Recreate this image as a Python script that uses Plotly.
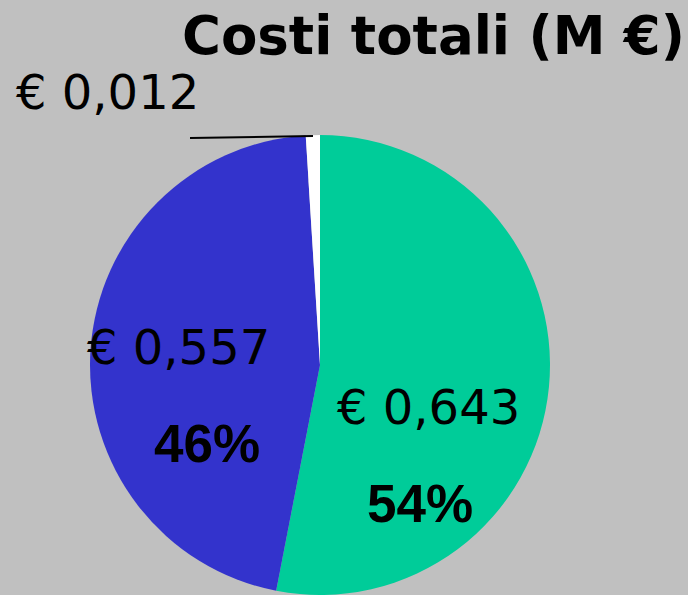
import plotly.graph_objects as go

# ---- data ----
categories = ["Voce A", "Voce B", "Voce C"]
values = [0.643, 0.557, 0.012]
value_labels = ["€ 0,643", "€ 0,557", "€ 0,012"]
pct_labels = ["54%", "46%", ""]
colors = ["#00CC99", "#3333CC", "#FFFFFF"]
title_text = "Costi totali (M €)"

W, H = 688, 595

fig = go.Figure()
fig.add_trace(go.Pie(
    labels=categories,
    values=values,
    sort=False,
    direction="clockwise",
    rotation=0,
    marker=dict(colors=colors, line=dict(width=0)),
    textinfo="none",
    hoverinfo="skip",
    showlegend=False,
    domain=dict(x=[(320 - 230) / W, (320 + 230) / W], y=[0, 460 / H]),
))

def px(x, y):
    return x / W, 1 - y / H

annots = []
# title
tx, ty = px(180, 35)
annots.append(dict(x=tx, y=ty, xref="paper", yref="paper", text="<b>" + title_text + "</b>",
                   showarrow=False, xanchor="left", yanchor="middle",
                   font=dict(family="DejaVu Sans", size=53, color="black")))

# value labels
val_pos = [(428, 407), (178, 347), (107, 92)]
for (x, y), t in zip(val_pos, value_labels):
    ax, ay = px(x, y)
    annots.append(dict(x=ax, y=ay, xref="paper", yref="paper", text=t, showarrow=False,
                       xanchor="center", yanchor="middle",
                       font=dict(family="DejaVu Sans", size=48, color="black")))

# percent labels
pct_pos = [(420, 503), (207, 443), None]
for p, t in zip(pct_pos, pct_labels):
    if p is None or not t:
        continue
    ax, ay = px(*p)
    annots.append(dict(x=ax, y=ay, xref="paper", yref="paper", text="<b>" + t + "</b>",
                       showarrow=False, xanchor="center", yanchor="middle",
                       font=dict(family="Liberation Sans", size=53, color="black")))

# leader line for the small slice
x0, y0 = px(190, 138)
x1, y1 = px(313, 136)
shapes = [dict(type="line", xref="paper", yref="paper", x0=x0, y0=y0, x1=x1, y1=y1,
               line=dict(color="black", width=2))]

fig.update_layout(
    width=W, height=H,
    margin=dict(l=0, r=0, t=0, b=0),
    paper_bgcolor="#C0C0C0",
    plot_bgcolor="#C0C0C0",
    annotations=annots,
    shapes=shapes,
)

fig.write_html("out.html",
               config={"displayModeBar": False},
               post_script="document.body.style.margin='0';document.body.style.overflow='hidden';")
